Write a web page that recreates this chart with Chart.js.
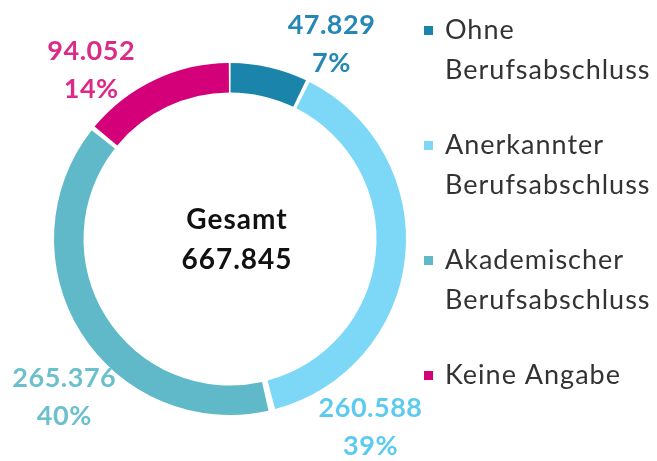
<!DOCTYPE html>
<html>
<head>
<meta charset="utf-8">
<script src="https://cdn.jsdelivr.net/npm/chart.js@4.4.1/dist/chart.umd.min.js"></script>
<style>
  html, body { margin: 0; padding: 0; background: #fff; }
  #wrap { width: 657px; height: 461px; }
</style>
</head>
<body>
<div id="wrap"><canvas id="bildungChart"></canvas></div>
<script>
// data
const categories = [
    ['Ohne', 'Berufsabschluss'],
    ['Anerkannter', 'Berufsabschluss'],
    ['Akademischer', 'Berufsabschluss'],
    ['Keine Angabe']
];
const values = [47829, 260588, 265376, 94052];
const valueLabels = ['47.829', '260.588', '265.376', '94.052'];
const percentLabels = ['7%', '39%', '40%', '14%'];
const totalLabel = ['Gesamt', '667.845'];

const sliceColors = ['#1b84ab', '#7dd8f8', '#5fb9c9', '#d4007a'];
const labelColors = ['#2487b4', '#5ccbef', '#6cbfcd', '#dc2a8a'];
// label block centre relative to doughnut centre, in units of outer radius
const labelOffsets = [[0.585, -1.12], [0.81, 1.085], [-0.955, 0.91], [-0.80, -0.97]];

const FONT = 'Lato, "Open Sans", sans-serif';

const sliceLabels = {
    id: 'sliceLabels',
    afterDatasetsDraw(chart) {
        const c = chart.ctx;
        const meta = chart.getDatasetMeta(0);
        c.save();
        c.textAlign = 'center';
        c.textBaseline = 'middle';
        c.letterSpacing = '0.5px';
        meta.data.forEach((arc, i) => {
            const cx = arc.x + labelOffsets[i][0] * arc.outerRadius;
            const cy = arc.y + labelOffsets[i][1] * arc.outerRadius;
            c.fillStyle = labelColors[i];
            c.font = 'bold 27px ' + FONT;
            c.fillText(valueLabels[i], cx, cy - 19);
            c.fillText(percentLabels[i], cx, cy + 19);
        });
        // centre text
        const a = meta.data[0];
        c.fillStyle = '#111111';
        c.letterSpacing = '1px';
        c.font = 'bold 28px ' + FONT;
        c.fillText(totalLabel[0], a.x + 7, a.y - 19);
        c.fillText(totalLabel[1], a.x + 7, a.y + 21);
        c.restore();
    }
};

const sideLegend = {
    id: 'sideLegend',
    afterDraw(chart) {
        const c = chart.ctx;
        const x0 = 424, y0 = 30, lineH = 40, itemGap = 35;
        c.save();
        c.textAlign = 'left';
        c.textBaseline = 'middle';
        c.letterSpacing = '1px';
        c.font = '27px ' + FONT;
        let y = y0;
        categories.forEach((lines, i) => {
            c.fillStyle = sliceColors[i];
            c.fillRect(x0, y - 4, 9, 9);
            c.fillStyle = '#333333';
            lines.forEach((t, k) => c.fillText(t, x0 + 21, y + k * lineH));
            y += lines.length * lineH + itemGap;
        });
        c.restore();
    }
};

new Chart(document.getElementById('bildungChart'), {
    type: 'doughnut',
    data: {
        labels: categories,
        datasets: [{
            data: values,
            backgroundColor: sliceColors,
            borderWidth: 0,
            spacing: 5
        }]
    },
    options: {
        responsive: true,
        maintainAspectRatio: false,
        animation: false,
        events: [],
        cutout: '83%',
        layout: { padding: { left: 54, right: 251, top: 63, bottom: 46 } },
        plugins: {
            legend: { display: false },
            tooltip: { enabled: false }
        }
    },
    plugins: [sliceLabels, sideLegend]
});
</script>
</body>
</html>
